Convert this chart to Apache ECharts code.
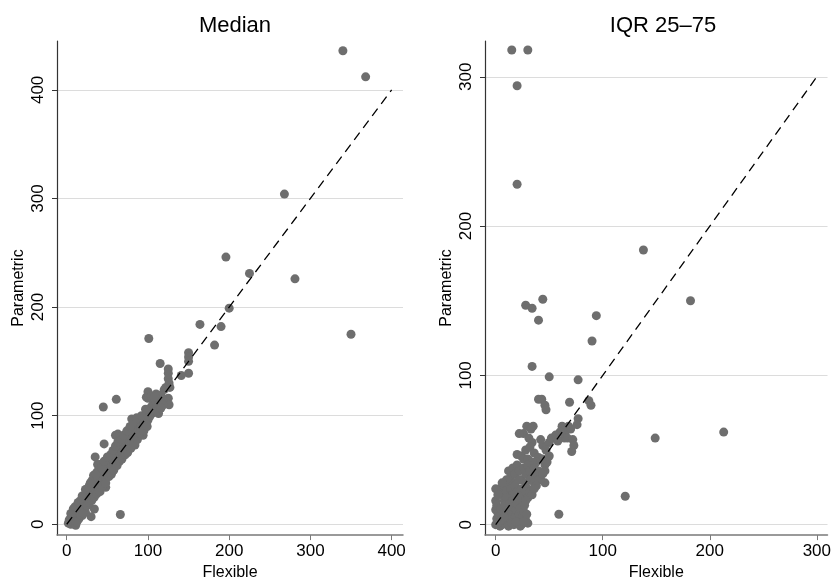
<!DOCTYPE html>
<html>
<head>
<meta charset="utf-8">
<title>Median and IQR: Flexible vs Parametric</title>
<script src="https://cdn.jsdelivr.net/npm/echarts@6/dist/echarts.min.js"></script>
<style>
  html, body { margin: 0; padding: 0; background: #fff; }
  #chart { width: 834px; height: 586px; }
</style>
</head>
<body>
<div id="chart"></div>
<script>
// Panel titles and axis names
const panelTitles = ['Median', 'IQR 25–75'];
const xName = 'Flexible';
const yName = 'Parametric';

// Tick values for each panel
const medianTicks = [0, 100, 200, 300, 400];
const iqrTicks = [0, 100, 200, 300];

// Reference (45-degree) lines
const medianDiagonal = [[0, 0], [400, 400]];
const iqrDiagonal = [[0, 0], [300, 300]];

// Median estimates: [flexible, parametric]
const medianPoints = [
  [340,436],[368,412],[268,304],[196,246],[225,231],[281,226],[350,175],[200,199],
  [164,184],[190,182],[182,165],[101,171],[115,148],[150,158],[150,154],[150,150],
  [150,139],[141,137],[125,143],[125,139],[125,134],[126,130],[127,126],[125,116],
  [126,110],[114,114],[113,102],[100,122],[98,117],[110,120],[108,108],[102,105],
  [94,97],[90,92],[61,115],[45,108],[63,83],[46,74],[35,62],[66,9],[30,7],[34,14],
  [48,34],[60,82],[38,55],
  [2,1],[3,4],[4,2],[5,6],[5,0],[6,3],[7,8],[7,5],[8,2],[8,10],[9,7],[10,4],[10,12],
  [11,9],[11,-1],[12,6],[12,14],[13,11],[13,3],[14,16],[14,8],[15,13],[15,5],[16,18],
  [16,10],[17,15],[17,22],[18,12],[18,20],[19,17],[19,8],[20,24],[20,14],[21,19],[21,26],
  [22,16],[22,23],[23,28],[23,11],[24,21],[24,18],[25,30],[25,25],[26,22],[26,33],
  [27,27],[27,19],[28,31],[28,36],[29,24],[29,38],[30,28],[30,33],[31,40],[31,26],
  [32,35],[32,30],[33,38],[33,42],[34,29],[34,36],[35,40],[35,33],[36,44],[36,31],
  [37,38],[37,48],[38,42],[38,36],[39,45],[39,34],[40,50],[40,40],
  [41,44],[41,38],[42,47],[42,54],[43,42],[43,49],[44,46],[44,40],[45,52],[45,56],
  [46,44],[47,50],[47,58],[48,47],[48,42],[49,53],[50,57],[50,50],[51,48],[52,55],
  [52,60],[53,52],[54,58],[54,50],[55,62],[56,56],[56,53],[57,60],[58,66],[58,55],
  [59,62],[60,58],[60,70],[61,64],[62,68],[62,60],
  [63,65],[64,72],[64,62],[65,68],[66,64],[66,75],[67,70],[68,66],[69,73],[70,70],
  [70,78],[71,68],[72,75],[73,72],[73,80],[74,76],[75,71],[76,79],[76,84],[77,75],
  [78,82],[79,78],[80,86],[80,76],
  [81,83],[82,88],[83,80],[84,86],[84,92],[85,82],[86,89],[87,84],[88,91],[88,96],
  [89,87],[90,93],[91,88],[92,97],[93,92],[94,96],[95,90],[96,99],[97,95],[98,101],
  [99,97],[100,103],[100,96],[94,82],[84,73],[80,97],[86,97],[92,98],
  [101,105],[102,99],[104,108],[105,102],[106,110],[108,106],[110,113],[110,104],
  [112,118],[113,110],[114,106],[116,119],[118,115],[100,116],[104,118],[108,117],
  [120,124],[122,126],[119,110],[116,107],
  [5,10],[8,14],[10,16],[12,2],[14,20],[17,9],[19,26],[20,10],[23,32],[25,17],
  [27,34],[28,20],[30,38],[31,22],[33,45],[34,25],[36,46],[37,28],[40,55],[41,30],
  [43,52],[44,35],[46,58],[48,38],[50,62],[52,44],[54,64],[55,46],[57,68],[58,50],
  [60,72],[62,54],[63,76],[65,58],[67,78],[68,60],[70,82],[72,64],[74,86],[75,66],
  [78,90],[79,70],[82,94],[83,74],[86,98],[87,78],[90,84],[92,100],[95,86],[97,106],
  [99,90]
];

// IQR 25-75 estimates: [flexible, parametric]
const iqrPoints = [
  [15,318],[30,318],[20,294],[20,228],[138,184],[182,150],[44,151],[28,147],[34,145],
  [40,137],[94,140],[90,123],[34,106],[50,99],[77,97],[40,84],[43,84],[46,80],[47,77],
  [69,82],[87,83],[89,80],[77,71],[76,67],[149,58],[213,62],[121,19],[59,7],
  [62,66],[65,62],[68,66],[70,64],[64,58],[60,62],[67,58],[72,57],[73,53],[71,49],
  [29,66],[35,66],[33,64],[26,61],[22,61],[31,58],[34,55],[44,53],[42,57],[50,55],
  [47,50],[52,58],[56,60],[58,56],[20,47],[24,46],[28,50],[32,52],[36,48],[40,45],
  [44,44],[46,40],[46,36],[46,28],[48,42],[50,46],[38,42],[26,44],[30,44],[34,42],
  [12,36],[14,32],[16,38],[18,34],[20,40],[22,36],[24,30],[26,38],[28,34],[30,40],
  [32,36],[34,32],[36,38],[38,34],[40,36],[42,30],[14,28],[10,30],[18,28],[22,30],
  [28,28],[32,30],[36,28],[40,30],[44,34],[38,26],[30,24],
  [4,24],[6,20],[8,26],[10,22],[12,18],[14,24],[16,20],[18,26],[20,22],[22,18],
  [24,24],[26,20],[28,22],[30,18],[32,22],[34,20],[36,24],[8,16],[10,18],[16,16],
  [20,16],[24,16],[28,16],[0,24],[0,16],[2,20],[6,28],
  [0,0],[1,4],[2,8],[0,10],[1,13],[3,2],[4,6],[5,11],[6,0],[7,4],[8,9],[9,13],
  [10,1],[11,6],[12,10],[13,14],[14,3],[15,8],[16,12],[17,0],[18,5],[19,10],[20,14],
  [21,2],[22,7],[23,11],[24,0],[25,5],[26,9],[27,13],[28,3],[29,7],[30,1],[23,-1],
  [12,-1],[4,-1],[2,1],[5,3],[8,5],[15,1],[19,2],[26,2]
];

const FONT = 'Liberation Sans, Arial, Helvetica, sans-serif';
const DOT = '#6e6e6e';

function xAxisFor(grid, min, max, ticks) {
  return {
    type: 'value', gridIndex: grid, min: min, max: max,
    name: xName, nameLocation: 'middle', nameGap: 24,
    nameTextStyle: { fontFamily: FONT, fontSize: 16, color: '#000' },
    axisLine: { show: true, onZero: false, lineStyle: { color: '#7a7a7a', width: 1.5 } },
    axisTick: { show: true, length: 5, customValues: ticks, lineStyle: { color: '#7a7a7a' } },
    axisLabel: { customValues: ticks, margin: 8, fontFamily: FONT, fontSize: 17, color: '#000' },
    splitLine: { show: false }
  };
}

function yAxisFor(grid, min, max, ticks) {
  return {
    type: 'value', gridIndex: grid, min: min, max: max,
    name: yName, nameLocation: 'middle', nameGap: 30, nameRotate: 90,
    nameTextStyle: { fontFamily: FONT, fontSize: 16, color: '#000' },
    axisLine: { show: true, onZero: false, lineStyle: { color: '#333', width: 1.2 } },
    axisTick: { show: true, length: 5, customValues: ticks, lineStyle: { color: '#333' } },
    axisLabel: { customValues: ticks, rotate: 90, margin: 10, fontFamily: FONT, fontSize: 17, color: '#000' },
    splitLine: { show: true, lineStyle: { color: '#dcdcdc', width: 1 } }
  };
}

const chart = echarts.init(document.getElementById('chart'), null, { renderer: 'canvas' });

chart.setOption({
  animation: false,
  backgroundColor: '#fff',
  title: [
    { text: panelTitles[0], left: 230, top: 10, textAlign: 'center',
      textStyle: { fontFamily: FONT, fontSize: 22, fontWeight: 'normal', color: '#000' } },
    { text: panelTitles[1], left: 658, top: 10, textAlign: 'center',
      textStyle: { fontFamily: FONT, fontSize: 22, fontWeight: 'normal', color: '#000' } }
  ],
  grid: [
    { left: 57, top: 41, width: 346, height: 504 },
    { left: 485, top: 41, width: 347, height: 504 }
  ],
  xAxis: [
    xAxisFor(0, -12, 414, medianTicks),
    xAxisFor(1, -10, 310, iqrTicks)
  ],
  yAxis: [
    yAxisFor(0, -10, 445, medianTicks),
    yAxisFor(1, -7, 324, iqrTicks)
  ],
  series: [
    { type: 'scatter', xAxisIndex: 0, yAxisIndex: 0, data: medianPoints,
      symbolSize: 9, itemStyle: { color: DOT, opacity: 1 }, z: 2 },
    { type: 'line', xAxisIndex: 0, yAxisIndex: 0, data: medianDiagonal,
      symbol: 'none', lineStyle: { color: '#000', width: 1.3, type: [9, 6] }, z: 3 },
    { type: 'scatter', xAxisIndex: 1, yAxisIndex: 1, data: iqrPoints,
      symbolSize: 9, itemStyle: { color: DOT, opacity: 1 }, z: 2 },
    { type: 'line', xAxisIndex: 1, yAxisIndex: 1, data: iqrDiagonal,
      symbol: 'none', lineStyle: { color: '#000', width: 1.3, type: [9, 6] }, z: 3 }
  ]
});
</script>
</body>
</html>
